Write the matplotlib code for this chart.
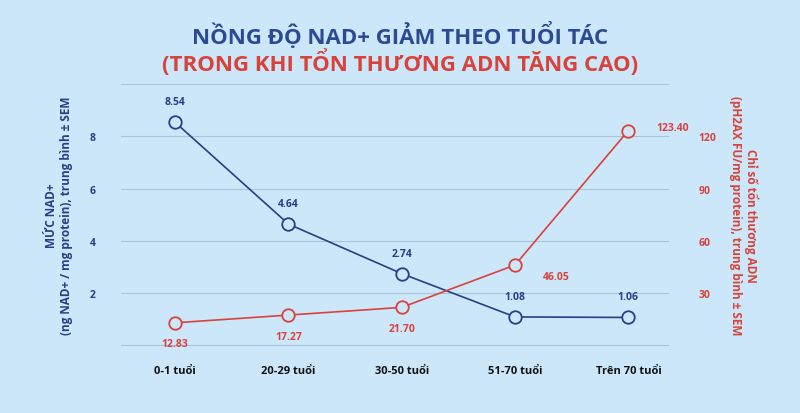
import matplotlib.pyplot as plt

categories = ["0-1 tuổi", "20-29 tuổi", "30-50 tuổi", "51-70 tuổi", "Trên 70 tuổi"]
nad_values = [8.54, 4.64, 2.74, 1.08, 1.06]
dna_damage = [12.83, 17.27, 21.70, 46.05, 123.40]

BG = "#cce7f9"
BLUE = "#283f86"
RED = "#d9423a"
GRID = "#a9c3db"

plt.rcParams['font.family'] = ['Open Sans', 'DejaVu Sans']

fig = plt.figure(figsize=(8, 4.14), dpi=100, facecolor=BG)
ax = fig.add_axes([0.151, 0.164, 0.684, 0.630], facecolor=BG)
ax2 = ax.twinx()

x = list(range(len(categories)))
ax.set_xlim(-0.48, 4.35)
ax.set_ylim(0, 10)
ax2.set_ylim(0, 150)

for y in range(0, 11, 2):
    ax.axhline(y, color=GRID, lw=0.8, zorder=0, clip_on=False)

ax.plot(x, nad_values, color=BLUE, lw=1.2, marker="o", ms=9, mfc=BG, mec=BLUE, mew=1.3, zorder=3)
ax2.plot(x, dna_damage, color=RED, lw=1.2, marker="o", ms=9, mfc=BG, mec=RED, mew=1.3, zorder=3)

for xi, v in zip(x, nad_values):
    ax.annotate(f"{v:.2f}", (xi, v), xytext=(0, 13), textcoords="offset points",
                ha="center", fontsize=7.5, fontweight="bold", color=BLUE)
red_offsets = [(0, -17), (0, -17), (0, -17), (30, -8), (32, 2)]
for xi, v, off in zip(x, dna_damage, red_offsets):
    ax2.annotate(f"{v:.2f}", (xi, v), xytext=off, textcoords="offset points",
                 ha="center", va="center" if off[0] else "baseline",
                 fontsize=7.5, fontweight="bold", color=RED)

ax.set_xticks(x)
ax.set_xticklabels(categories, fontsize=8, fontweight="bold", color="#111111")
ax.set_yticks([2, 4, 6, 8])
ax.tick_params(axis="y", colors=BLUE, labelsize=7.5, length=0, pad=18)
ax.tick_params(axis="x", length=0, pad=14)
ax2.set_yticks([30, 60, 90, 120])
ax2.tick_params(axis="y", colors=RED, labelsize=7.5, length=0, pad=22)
for lbl in ax.get_yticklabels() + ax2.get_yticklabels():
    lbl.set_fontweight("bold")
for a in (ax, ax2):
    for s in a.spines.values():
        s.set_visible(False)

ax.set_ylabel("MỨC NAD+\n(ng NAD+ / mg protein), trung bình ± SEM",
              fontsize=8.5, fontweight="bold", color=BLUE, labelpad=12)
ax2.set_ylabel("Chỉ số tổn thương ADN\n(pH2AX FU/mg protein), trung bình ± SEM",
               fontsize=8.5, fontweight="bold", color=RED, rotation=270, labelpad=30)

fig.text(0.5, 0.915, "NỒNG ĐỘ NAD+ GIẢM THEO TUỔI TÁC", ha="center", va="center",
         fontsize=16, fontweight="bold", color="#2c4a93")
fig.text(0.5, 0.85, "(TRONG KHI TỔN THƯƠNG ADN TĂNG CAO)", ha="center", va="center",
         fontsize=16, fontweight="bold", color=RED)

fig.savefig("out.png", dpi=100, facecolor=BG)
